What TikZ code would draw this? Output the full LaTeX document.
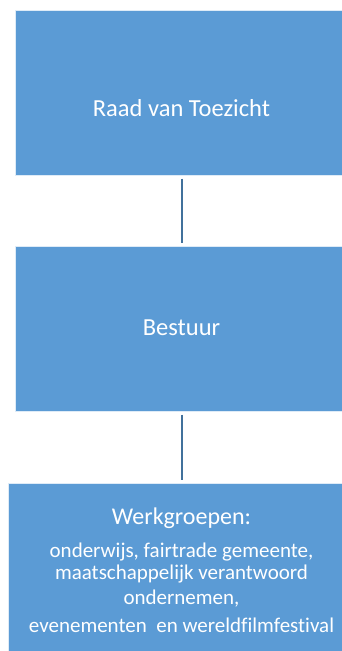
\documentclass[tikz,border=0pt]{standalone}
\usepackage{fontspec}
\setmainfont[Ligatures=NoCommon]{Carlito}
\definecolor{boxblue}{HTML}{5B9BD5}
\definecolor{linkblue}{HTML}{41719C}
\tikzset{
  orgbox/.style={draw=white!80!boxblue, line width=0.6pt, fill=boxblue, inner sep=0pt, anchor=north west},
  boxtext/.style={text=white, inner sep=0pt, anchor=base},
  link/.style={draw=linkblue, line width=2pt, shorten <=3pt, shorten >=3pt}
}
\begin{document}
\begin{tikzpicture}[x=1pt,y=1pt]
\useasboundingbox (0,0) rectangle (342,651);
\clip (0,0) rectangle (342,651);
% boxes (y measured from top: tikz y = 651 - y)
\node[orgbox, minimum width=333pt, minimum height=165pt] (raad) at (15,641) {};
\node[orgbox, minimum width=333pt, minimum height=165pt] (bestuur) at (15,405) {};
\node[orgbox, minimum width=347pt, minimum height=180pt] (werk) at (8,168) {};
% connectors
\draw[link] (raad.south) -- (bestuur.north);
\draw[link] (bestuur.south) -- (werk.north);
% texts
\node[boxtext, font=\fontsize{24.5}{28}\selectfont] (t1) at (181.5,534) {Raad van Toezicht};
\node[boxtext, font=\fontsize{24.5}{28}\selectfont] (t2) at (181.5,315) {Bestuur};
\node[boxtext, font=\fontsize{24}{28}\selectfont] (t3) at (181.5,126) {Werkgroepen:};
\node[boxtext, font=\fontsize{21}{24}\selectfont] (t4) at (181.5,93) {onderwijs, fairtrade gemeente,};
\node[boxtext, font=\fontsize{21}{24}\selectfont] (t5) at (181.5,71) {maatschappelijk verantwoord};
\node[boxtext, font=\fontsize{21}{24}\selectfont] (t6) at (181.5,46) {ondernemen,};
\node[boxtext, font=\fontsize{21}{24}\selectfont] (t7) at (181.5,18) {evenementen\ \ en wereldfilmfestival};
\end{tikzpicture}
\end{document}
